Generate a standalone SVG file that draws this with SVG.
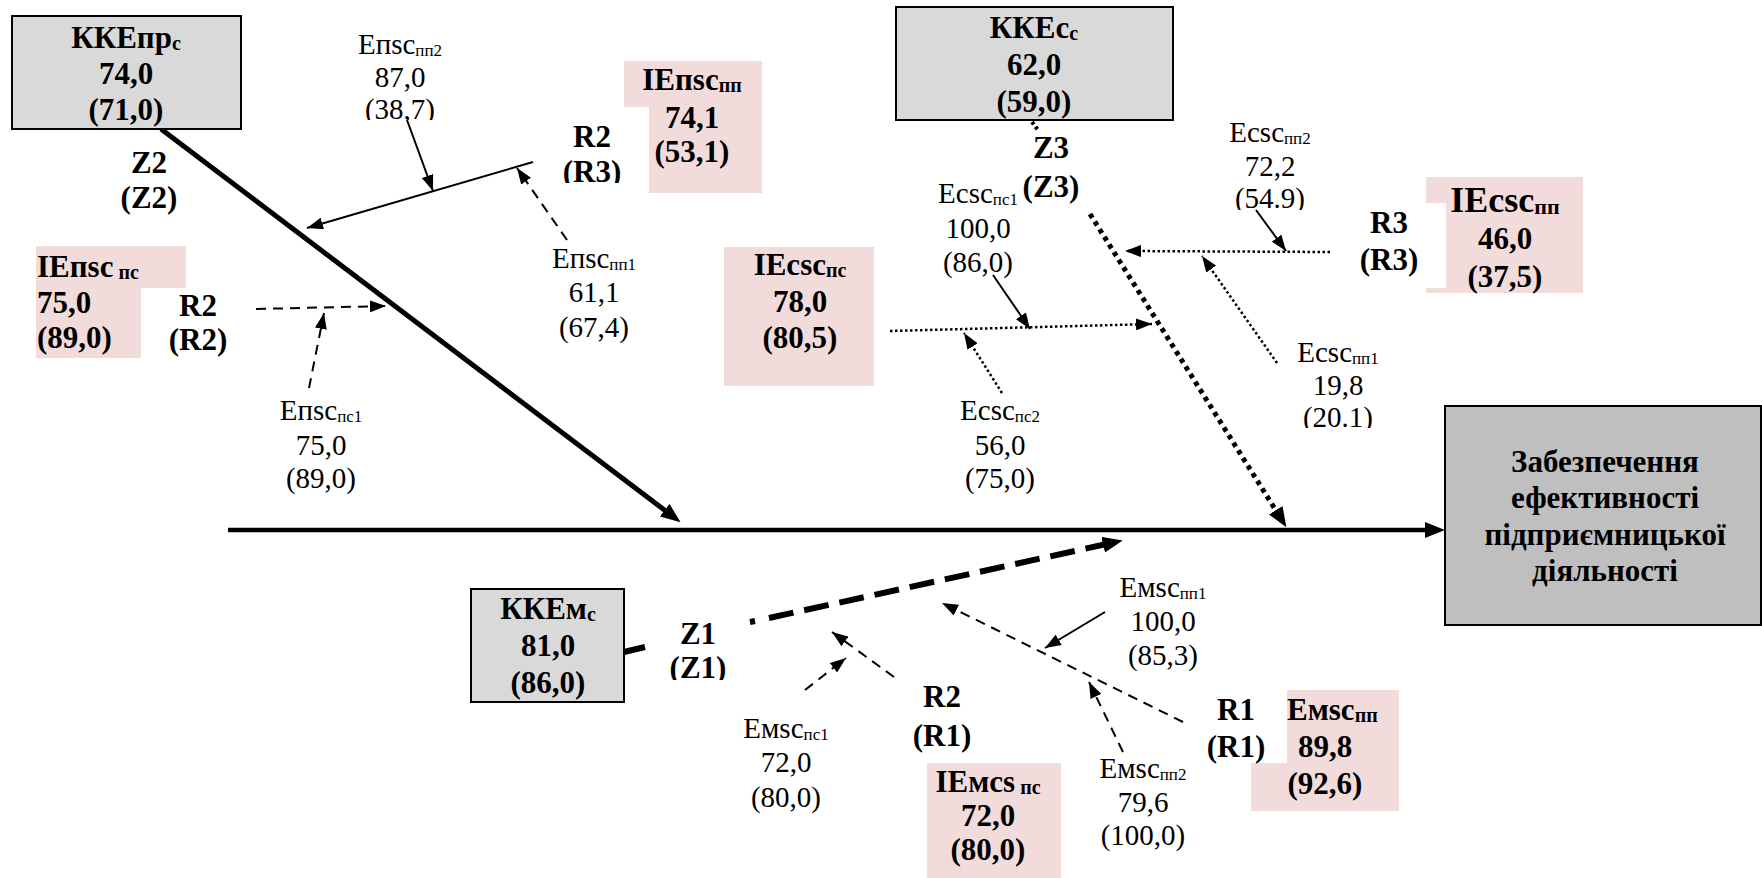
<svg xmlns="http://www.w3.org/2000/svg" width="1762" height="878" viewBox="0 0 1762 878">
  <defs>
    <style>
      .gray { fill: #d9d9d9; stroke: #000; stroke-width: 2; }
      .goal { fill: #bfbfbf; stroke: #000; stroke-width: 2; }
      .pink { fill: #f2dcdb; stroke: none; }
      .ln { stroke: #000; stroke-width: 2; fill: none; marker-end: url(#ah); }
      .dash { stroke-dasharray: 10 7; }
      .dot { stroke-width: 2.5; stroke-dasharray: 2.5 2.5; }
      .heavy { stroke: #000; fill: none; }
    </style>
    <marker id="ah" markerUnits="userSpaceOnUse" markerWidth="16" markerHeight="12" refX="16" refY="6" orient="auto">
      <path d="M0,0 L16,6 L0,12 z" fill="#000"/>
    </marker>
    <marker id="ahBig" markerUnits="userSpaceOnUse" markerWidth="20" markerHeight="16" refX="8" refY="8" orient="auto">
      <path d="M0,0 L20,8 L0,16 z" fill="#000"/>
    </marker>
    <clipPath id="clip120"><rect x="0" y="0" width="1762" height="120"/></clipPath>
    <clipPath id="clip183"><rect x="0" y="0" width="1762" height="183"/></clipPath>
    <clipPath id="clip210"><rect x="0" y="0" width="1762" height="210"/></clipPath>
    <clipPath id="clip428"><rect x="0" y="0" width="1762" height="428"/></clipPath>
    <clipPath id="clip680"><rect x="0" y="0" width="1762" height="680"/></clipPath>
  </defs>

  <rect width="1762" height="878" fill="#fff"/>

  <!-- pink indicator panels (drawn under the connectors) -->
  <g id="panels">
    <polygon class="pink" points="624,61 762,61 762,193 649,193 649,107 624,107"/>
    <polygon class="pink" points="36,246 186,246 186,288 141,288 141,358 36,358"/>
    <rect class="pink" x="724" y="247" width="150" height="139"/>
    <polygon class="pink" points="1426,177 1583,177 1583,293 1426,293 1426,288 1446,288 1446,203 1426,203"/>
    <rect class="pink" x="927" y="763" width="134" height="115"/>
    <polygon class="pink" points="1287,690 1399,690 1399,811 1251,811 1251,763 1287,763"/>
  </g>

  <g id="connectors">
    <!-- spines -->
    <line class="heavy" x1="228" y1="530" x2="1433" y2="530" stroke-width="4.5" marker-end="url(#ahBig)"/>
    <line class="heavy" x1="161" y1="129" x2="671" y2="515" stroke-width="5" marker-end="url(#ahBig)"/>
    <line class="heavy" x1="1090" y1="214" x2="1280" y2="517" stroke-width="5" stroke-dasharray="4.5 4.5" marker-end="url(#ahBig)"/>
    <line class="heavy" x1="1032" y1="122" x2="1038" y2="130" stroke-width="4" stroke-dasharray="3 3"/>
    <line class="heavy" x1="624" y1="652" x2="645" y2="647" stroke-width="6"/>
    <line class="heavy" x1="750" y1="622" x2="755" y2="621" stroke-width="6"/>
    <line class="heavy" x1="769" y1="618" x2="1111" y2="543" stroke-width="6" stroke-dasharray="25 11" marker-end="url(#ahBig)"/>

    <!-- Z2 branch -->
    <line class="ln" x1="533" y1="162" x2="307" y2="228"/>
    <line class="ln" x1="407" y1="120" x2="433" y2="191"/>
    <line class="ln dash" x1="567" y1="240" x2="517" y2="168"/>
    <line class="ln dash" x1="256" y1="309" x2="386" y2="306"/>
    <line class="ln dash" x1="309" y1="388" x2="324" y2="313"/>

    <!-- Z3 branch -->
    <line class="ln dot" x1="890" y1="331" x2="1152" y2="324"/>
    <line class="ln" x1="993" y1="275" x2="1030" y2="329"/>
    <line class="ln dot" x1="1002" y1="393" x2="964" y2="333"/>
    <line class="ln dot" x1="1330" y1="252" x2="1125" y2="251"/>
    <line class="ln" x1="1256" y1="210" x2="1286" y2="251"/>
    <line class="ln dot" x1="1277" y1="363" x2="1202" y2="256"/>

    <!-- Z1 branch -->
    <line class="ln dash" x1="805" y1="690" x2="846" y2="658"/>
    <line class="ln dash" x1="894" y1="677" x2="832" y2="632"/>
    <line class="ln dash" x1="1183" y1="722" x2="942" y2="603"/>
    <line class="ln" x1="1105" y1="612" x2="1045" y2="648"/>
    <line class="ln dash" x1="1123" y1="752" x2="1089" y2="682"/>
  </g>

  <g id="nodes">
  <g id="node-kke-prs">
    <rect class="gray" x="12" y="16" width="229" height="113"/>
    <text font-family="Liberation Serif" font-weight="bold" font-size="31" text-anchor="middle" x="126" y="48">ККЕпр<tspan font-size="20" dy="2">с</tspan></text>
    <text font-family="Liberation Serif" font-weight="bold" font-size="31" text-anchor="middle" x="126" y="84">74,0</text>
    <text font-family="Liberation Serif" font-weight="bold" font-size="31" text-anchor="middle" x="126" y="120">(71,0)</text>
  </g>

  <g id="node-z2">
    <text font-family="Liberation Serif" font-weight="bold" font-size="31" text-anchor="middle" x="149" y="173">Z2</text>
    <text font-family="Liberation Serif" font-weight="bold" font-size="31" text-anchor="middle" x="149" y="208">(Z2)</text>
  </g>

  <g id="node-epsc-pp2">
    <text font-family="Liberation Serif" font-size="29" text-anchor="middle" x="400" y="54">Eпsc<tspan font-size="17" dy="2">пп2</tspan></text>
    <text font-family="Liberation Serif" font-size="29" text-anchor="middle" x="400" y="87">87,0</text>
    <text font-family="Liberation Serif" font-size="29" text-anchor="middle" x="400" y="119" clip-path="url(#clip120)">(38,7)</text>
  </g>

  <g id="node-r2-r3">
    <text font-family="Liberation Serif" font-weight="bold" font-size="31" text-anchor="middle" x="592" y="147">R2</text>
    <text font-family="Liberation Serif" font-weight="bold" font-size="31" text-anchor="middle" x="592" y="182" clip-path="url(#clip183)">(R3)</text>
  </g>

  <g id="node-iepsc-pp">
    <text font-family="Liberation Serif" font-weight="bold" font-size="31" text-anchor="middle" x="692" y="90">IEпsc<tspan font-size="20" dy="2">пп</tspan></text>
    <text font-family="Liberation Serif" font-weight="bold" font-size="31" text-anchor="middle" x="692" y="128">74,1</text>
    <text font-family="Liberation Serif" font-weight="bold" font-size="31" text-anchor="middle" x="692" y="162">(53,1)</text>
  </g>

  <g id="node-iepsc-ps">
    <text font-family="Liberation Serif" font-weight="bold" font-size="31" x="37" y="277">IEпsc<tspan font-size="20" dy="2"> пс</tspan></text>
    <text font-family="Liberation Serif" font-weight="bold" font-size="31" x="37" y="313">75,0</text>
    <text font-family="Liberation Serif" font-weight="bold" font-size="31" x="37" y="348">(89,0)</text>
  </g>

  <g id="node-r2-r2">
    <text font-family="Liberation Serif" font-weight="bold" font-size="31" text-anchor="middle" x="198" y="316">R2</text>
    <text font-family="Liberation Serif" font-weight="bold" font-size="31" text-anchor="middle" x="198" y="350">(R2)</text>
  </g>

  <g id="node-epsc-pp1">
    <text font-family="Liberation Serif" font-size="29" text-anchor="middle" x="594" y="268">Eпsc<tspan font-size="17" dy="2">пп1</tspan></text>
    <text font-family="Liberation Serif" font-size="29" text-anchor="middle" x="594" y="302">61,1</text>
    <text font-family="Liberation Serif" font-size="29" text-anchor="middle" x="594" y="337">(67,4)</text>
  </g>

  <g id="node-epsc-ps1">
    <text font-family="Liberation Serif" font-size="29" text-anchor="middle" x="321" y="420">Eпsc<tspan font-size="17" dy="2">пс1</tspan></text>
    <text font-family="Liberation Serif" font-size="29" text-anchor="middle" x="321" y="455">75,0</text>
    <text font-family="Liberation Serif" font-size="29" text-anchor="middle" x="321" y="488">(89,0)</text>
  </g>

  <g id="node-kke-cc">
    <rect class="gray" x="896" y="7" width="277" height="113"/>
    <text font-family="Liberation Serif" font-weight="bold" font-size="31" text-anchor="middle" x="1034" y="38">ККЕс<tspan font-size="20" dy="2">с</tspan></text>
    <text font-family="Liberation Serif" font-weight="bold" font-size="31" text-anchor="middle" x="1034" y="75">62,0</text>
    <text font-family="Liberation Serif" font-weight="bold" font-size="31" text-anchor="middle" x="1034" y="112">(59,0)</text>
  </g>

  <g id="node-z3">
    <text font-family="Liberation Serif" font-weight="bold" font-size="31" text-anchor="middle" x="1051" y="158">Z3</text>
    <text font-family="Liberation Serif" font-weight="bold" font-size="31" text-anchor="middle" x="1051" y="197">(Z3)</text>
  </g>

  <g id="node-ecsc-ps1">
    <text font-family="Liberation Serif" font-size="29" text-anchor="middle" x="978" y="203">Ecsc<tspan font-size="17" dy="2">пс1</tspan></text>
    <text font-family="Liberation Serif" font-size="29" text-anchor="middle" x="978" y="238">100,0</text>
    <text font-family="Liberation Serif" font-size="29" text-anchor="middle" x="978" y="272">(86,0)</text>
  </g>

  <g id="node-iecsc-ps">
    <text font-family="Liberation Serif" font-weight="bold" font-size="31" text-anchor="middle" x="800" y="275">IEcsc<tspan font-size="20" dy="2">пс</tspan></text>
    <text font-family="Liberation Serif" font-weight="bold" font-size="31" text-anchor="middle" x="800" y="312">78,0</text>
    <text font-family="Liberation Serif" font-weight="bold" font-size="31" text-anchor="middle" x="800" y="348">(80,5)</text>
  </g>

  <g id="node-ecsc-ps2">
    <text font-family="Liberation Serif" font-size="29" text-anchor="middle" x="1000" y="420">Ecsc<tspan font-size="17" dy="2">пс2</tspan></text>
    <text font-family="Liberation Serif" font-size="29" text-anchor="middle" x="1000" y="455">56,0</text>
    <text font-family="Liberation Serif" font-size="29" text-anchor="middle" x="1000" y="488">(75,0)</text>
  </g>

  <g id="node-ecsc-pp2">
    <text font-family="Liberation Serif" font-size="29" text-anchor="middle" x="1270" y="142">Ecsc<tspan font-size="17" dy="2">пп2</tspan></text>
    <text font-family="Liberation Serif" font-size="29" text-anchor="middle" x="1270" y="176">72,2</text>
    <text font-family="Liberation Serif" font-size="29" text-anchor="middle" x="1270" y="208" clip-path="url(#clip210)">(54.9)</text>
  </g>

  <g id="node-r3-r3">
    <text font-family="Liberation Serif" font-weight="bold" font-size="31" text-anchor="middle" x="1389" y="233">R3</text>
    <text font-family="Liberation Serif" font-weight="bold" font-size="31" text-anchor="middle" x="1389" y="270">(R3)</text>
  </g>

  <g id="node-iecsc-pp">
    <text font-family="Liberation Serif" font-weight="bold" font-size="36" text-anchor="middle" x="1505" y="212">IEcsc<tspan font-size="22" dy="2">пп</tspan></text>
    <text font-family="Liberation Serif" font-weight="bold" font-size="31" text-anchor="middle" x="1505" y="249">46,0</text>
    <text font-family="Liberation Serif" font-weight="bold" font-size="31" text-anchor="middle" x="1505" y="287">(37,5)</text>
  </g>

  <g id="node-ecsc-pp1">
    <text font-family="Liberation Serif" font-size="29" text-anchor="middle" x="1338" y="362">Ecsc<tspan font-size="17" dy="2">пп1</tspan></text>
    <text font-family="Liberation Serif" font-size="29" text-anchor="middle" x="1338" y="395">19,8</text>
    <text font-family="Liberation Serif" font-size="29" text-anchor="middle" x="1338" y="427" clip-path="url(#clip428)">(20.1)</text>
  </g>

  <g id="node-goal">
    <rect class="goal" x="1445" y="406" width="316" height="219"/>
    <text font-family="Liberation Serif" font-weight="bold" font-size="31" text-anchor="middle" x="1605" y="472">Забезпечення</text>
    <text font-family="Liberation Serif" font-weight="bold" font-size="31" text-anchor="middle" x="1605" y="508">ефективності</text>
    <text font-family="Liberation Serif" font-weight="bold" font-size="31" text-anchor="middle" x="1605" y="545">підприємницької</text>
    <text font-family="Liberation Serif" font-weight="bold" font-size="31" text-anchor="middle" x="1605" y="581">діяльності</text>
  </g>

  <g id="node-kke-ms">
    <rect class="gray" x="471" y="589" width="153" height="113"/>
    <text font-family="Liberation Serif" font-weight="bold" font-size="31" text-anchor="middle" x="548" y="619">ККЕм<tspan font-size="20" dy="2">с</tspan></text>
    <text font-family="Liberation Serif" font-weight="bold" font-size="31" text-anchor="middle" x="548" y="656">81,0</text>
    <text font-family="Liberation Serif" font-weight="bold" font-size="31" text-anchor="middle" x="548" y="693">(86,0)</text>
  </g>

  <g id="node-z1">
    <text font-family="Liberation Serif" font-weight="bold" font-size="31" text-anchor="middle" x="698" y="644">Z1</text>
    <text font-family="Liberation Serif" font-weight="bold" font-size="31" text-anchor="middle" x="698" y="678" clip-path="url(#clip680)">(Z1)</text>
  </g>

  <g id="node-emsc-ps1">
    <text font-family="Liberation Serif" font-size="29" text-anchor="middle" x="786" y="738">Eмsc<tspan font-size="17" dy="2">пс1</tspan></text>
    <text font-family="Liberation Serif" font-size="29" text-anchor="middle" x="786" y="772">72,0</text>
    <text font-family="Liberation Serif" font-size="29" text-anchor="middle" x="786" y="807">(80,0)</text>
  </g>

  <g id="node-r2-r1">
    <text font-family="Liberation Serif" font-weight="bold" font-size="31" text-anchor="middle" x="942" y="707">R2</text>
    <text font-family="Liberation Serif" font-weight="bold" font-size="31" text-anchor="middle" x="942" y="746">(R1)</text>
  </g>

  <g id="node-iemcs-ps">
    <text font-family="Liberation Serif" font-weight="bold" font-size="31" text-anchor="middle" x="988" y="792">IEмcs<tspan font-size="20" dy="2"> пс</tspan></text>
    <text font-family="Liberation Serif" font-weight="bold" font-size="31" text-anchor="middle" x="988" y="826">72,0</text>
    <text font-family="Liberation Serif" font-weight="bold" font-size="31" text-anchor="middle" x="988" y="860">(80,0)</text>
  </g>

  <g id="node-emsc-pp1">
    <text font-family="Liberation Serif" font-size="29" text-anchor="middle" x="1163" y="597">Eмsc<tspan font-size="17" dy="2">пп1</tspan></text>
    <text font-family="Liberation Serif" font-size="29" text-anchor="middle" x="1163" y="631">100,0</text>
    <text font-family="Liberation Serif" font-size="29" text-anchor="middle" x="1163" y="665">(85,3)</text>
  </g>

  <g id="node-emsc-pp2">
    <text font-family="Liberation Serif" font-size="29" text-anchor="middle" x="1143" y="778">Eмsc<tspan font-size="17" dy="2">пп2</tspan></text>
    <text font-family="Liberation Serif" font-size="29" text-anchor="middle" x="1143" y="812">79,6</text>
    <text font-family="Liberation Serif" font-size="29" text-anchor="middle" x="1143" y="845">(100,0)</text>
  </g>

  <g id="node-r1-r1">
    <text font-family="Liberation Serif" font-weight="bold" font-size="31" text-anchor="middle" x="1236" y="720">R1</text>
    <text font-family="Liberation Serif" font-weight="bold" font-size="31" text-anchor="middle" x="1236" y="757">(R1)</text>
  </g>

  <g id="node-emsc-pp">
    <text font-family="Liberation Serif" font-weight="bold" font-size="31" x="1287" y="720">Eмsc<tspan font-size="20" dy="2">пп</tspan></text>
    <text font-family="Liberation Serif" font-weight="bold" font-size="31" text-anchor="middle" x="1325" y="757">89,8</text>
    <text font-family="Liberation Serif" font-weight="bold" font-size="31" text-anchor="middle" x="1325" y="794">(92,6)</text>
  </g>
  </g>
</svg>
